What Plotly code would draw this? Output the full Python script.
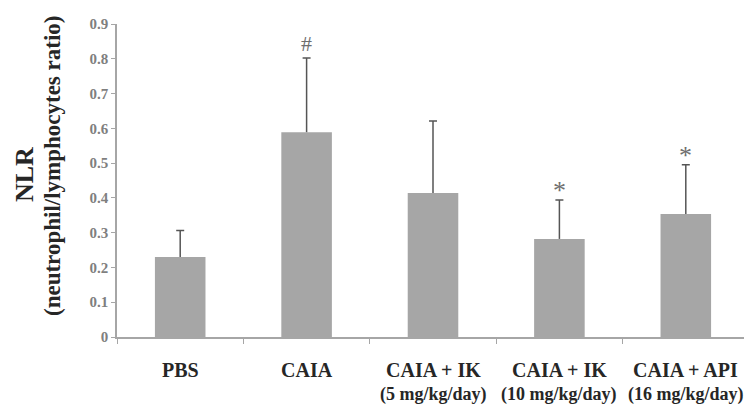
import plotly.graph_objects as go

FONT = "Liberation Serif, Times New Roman, serif"

groups = ["PBS", "CAIA", "CAIA + IK", "CAIA + IK", "CAIA + API"]
doses = ["", "", "(5 mg/kg/day)", "(10 mg/kg/day)", "(16 mg/kg/day)"]
nlr_mean = [0.230, 0.589, 0.414, 0.282, 0.354]
nlr_err = [0.076, 0.213, 0.207, 0.112, 0.141]
signif = ["", "#", "", "*", "*"]

x_pos = list(range(len(groups)))
err_top = [m + e for m, e in zip(nlr_mean, nlr_err)]

fig = go.Figure()
fig.add_trace(go.Bar(
    x=x_pos, y=nlr_mean, width=0.4,
    marker=dict(color="#a6a6a6", line=dict(width=0)),
    error_y=dict(
        type="data", array=nlr_err, arrayminus=[0] * len(nlr_err),
        symmetric=False, color="#555555", thickness=1.5, width=0,
    ),
    hovertemplate="%{y:.2f}<extra></extra>",
))
# caps on top of the whiskers only
fig.add_trace(go.Scatter(
    x=x_pos, y=err_top, mode="markers",
    marker=dict(size=1, color="rgba(0,0,0,0)"),
    error_y=dict(type="data", array=[0] * len(err_top), color="#555555",
                 thickness=1.5, width=4),
    hoverinfo="skip",
))

annotations = []
for i, (g, d) in enumerate(zip(groups, doses)):
    annotations.append(dict(
        x=i, y=-0.105, xref="x", yref="paper", text=f"<b>{g}</b>",
        showarrow=False, yanchor="middle",
        font=dict(family=FONT, size=20, color="#262626"),
    ))
    if d:
        annotations.append(dict(
            x=i, y=-0.185, xref="x", yref="paper", text=f"<b>{d}</b>",
            showarrow=False, yanchor="middle",
            font=dict(family=FONT, size=18, color="#262626"),
        ))

for i, s in enumerate(signif):
    if s:
        annotations.append(dict(
            x=i, y=err_top[i], xref="x", yref="y", text=s,
            showarrow=False, yanchor="middle", yshift=15 if s == "#" else 9,
            font=dict(family=FONT, size=22 if s == "#" else 26, color="#6e6e6e"),
        ))

# y axis title in two lines
annotations.append(dict(
    x=0, y=(329 - 167) / 313, xref="paper", yref="paper", text="<b>NLR</b>",
    textangle=-90, showarrow=False, xanchor="center", yanchor="middle",
    xshift=-93, font=dict(family=FONT, size=26, color="#262626"),
))
annotations.append(dict(
    x=0, y=(329 - 158) / 313, xref="paper", yref="paper",
    text="<b>(neutrophil/lymphocytes ratio)</b>",
    textangle=-90, showarrow=False, xanchor="center", yanchor="middle",
    xshift=-65, font=dict(family=FONT, size=23, color="#262626"),
))

fig.update_layout(
    width=752, height=406,
    margin=dict(l=109, r=11, t=16, b=77),
    paper_bgcolor="white", plot_bgcolor="white",
    showlegend=False,
    annotations=annotations,
    xaxis=dict(
        range=[-0.5, 4.5], tickvals=[-0.5, 0.5, 1.5, 2.5, 3.5, 4.5],
        showticklabels=False, ticks="outside", ticklen=5, tickcolor="#a6a6a6",
        showline=True, linecolor="#a6a6a6", linewidth=1.5, showgrid=False,
        zeroline=False, automargin=False,
    ),
    yaxis=dict(
        range=[0, 0.9], dtick=0.1, tick0=0, ticks="outside", ticklen=4,
        tickcolor="#a6a6a6", showline=True, linecolor="#a6a6a6", linewidth=1.5,
        showgrid=False, zeroline=False, automargin=False,
        tickfont=dict(family=FONT, size=15, color="#7f7f7f", weight="bold"),
    ),
)

fig.write_html("out.html")
